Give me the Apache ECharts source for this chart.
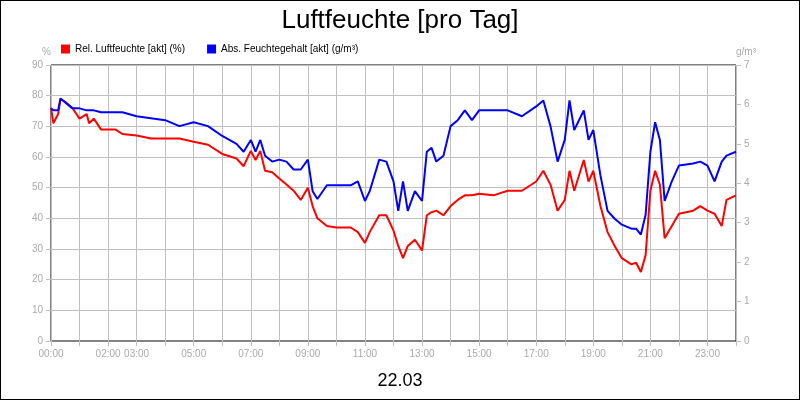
<!DOCTYPE html><html><head><meta charset="utf-8"><script src="https://cdn.jsdelivr.net/npm/echarts@6/dist/echarts.min.js"></script>
<style>body{margin:0}#c{width:798px;height:398px;border:1px solid #000}</style></head><body><div id="c"></div><script>
const times=["0:00","0:05","0:15","0:20","0:30","0:45","1:00","1:15","1:20","1:30","1:45","2:00","2:15","2:30","3:00","3:30","4:00","4:30","5:00","5:30","6:00","6:30","6:45","7:00","7:10","7:20","7:30","7:45","8:00","8:15","8:30","8:45","9:00","9:10","9:20","9:40","10:00","10:30","10:45","11:00","11:10","11:30","11:45","12:00","12:10","12:20","12:30","12:45","13:00","13:10","13:20","13:30","13:45","14:00","14:15","14:30","14:45","15:00","15:30","16:00","16:30","17:00","17:15","17:30","17:45","18:00","18:10","18:20","18:40","18:50","19:00","19:15","19:30","19:45","20:00","20:20","20:30","20:40","20:50","21:00","21:10","21:20","21:30","21:45","22:00","22:30","22:45","23:00","23:15","23:30","23:40","24:00"];
const relHum=[76,71,74,79,78,76,72.5,74,71,72.5,69,69,69,67.5,67,66,66,66,65,64,61,59.5,57,62,59,62,55.5,55,53,51,49,46,50,44,40,37.5,37,37,35.5,32,35.5,41,41,36,31,27,31,33,29.5,41,42,42.5,41,44,46,47.5,47.5,48,47.5,49,49,52,55.5,51,42.5,46,55.5,49,59,52,55.5,44,35.5,31,27,25,25.5,22.5,28,49,55.5,51,33.5,37.5,41.5,42.5,44,42.5,41.5,37.5,46,47.5];
const absHum=[5.9,5.85,5.85,6.15,6.05,5.9,5.9,5.85,5.85,5.85,5.8,5.8,5.8,5.8,5.7,5.65,5.6,5.45,5.55,5.45,5.2,5.0,4.8,5.1,4.8,5.1,4.7,4.55,4.6,4.55,4.35,4.35,4.6,3.8,3.6,3.95,3.95,3.95,4.05,3.55,3.8,4.6,4.55,4.05,3.3,4.05,3.3,3.8,3.55,4.8,4.9,4.55,4.7,5.45,5.6,5.85,5.6,5.85,5.85,5.85,5.7,5.95,6.1,5.45,4.55,5.1,6.1,5.35,5.85,5.1,5.35,4.2,3.3,3.1,2.95,2.85,2.85,2.7,3.2,4.8,5.55,5.1,3.55,4.05,4.45,4.5,4.55,4.45,4.05,4.55,4.7,4.8];
const xLabels={0:"00:00",2:"02:00",3:"03:00",5:"05:00",7:"07:00",9:"09:00",11:"11:00",13:"13:00",15:"15:00",17:"17:00",19:"19:00",21:"21:00",23:"23:00"};
const h=t=>{const [a,b]=t.split(":");return +a+ +b/60;};
const c=echarts.init(document.getElementById('c'));
const g='#c0c0c0',f='Liberation Sans, Arial';
c.setOption({animation:false,textStyle:{fontFamily:f},
title:[{text:'Luftfeuchte [pro Tag]',left:'center',top:2,textStyle:{fontSize:26,fontWeight:'normal',color:'#000',fontFamily:f}},
{text:'22.03',left:'center',top:366,textStyle:{fontSize:18,fontWeight:'normal',color:'#000',fontFamily:f}}],
legend:{left:55,top:38,itemWidth:9,itemHeight:9,itemGap:22,icon:'rect',textStyle:{fontSize:10,color:'#000'},data:['Rel. Luftfeuchte [akt] (%)','Abs. Feuchtegehalt [akt] (g/m³)']},
grid:{left:50,right:63,top:64,bottom:58,show:true,borderColor:'#000',borderWidth:1},
xAxis:{type:'value',min:0,max:24,interval:1,axisLine:{lineStyle:{color:'#888'}},axisTick:{lineStyle:{color:g}},splitLine:{lineStyle:{color:g}},
axisLabel:{color:'#aaa',fontSize:10,formatter:v=>xLabels[v]||''}},
yAxis:[{type:'value',min:0,max:90,interval:10,name:'%',nameGap:8,nameTextStyle:{color:'#aaa',fontSize:10,align:'right'},axisLine:{show:false},axisTick:{show:true,lineStyle:{color:g}},axisLabel:{color:'#aaa',fontSize:10},splitLine:{lineStyle:{color:g}}},
{type:'value',min:0,max:7,interval:1,name:'g/m³',nameGap:8,nameTextStyle:{color:'#aaa',fontSize:10,align:'left'},axisLine:{show:false},axisTick:{show:true,lineStyle:{color:g}},axisLabel:{color:'#aaa',fontSize:10},splitLine:{show:false}}],
series:[{name:'Rel. Luftfeuchte [akt] (%)',type:'line',showSymbol:false,color:'#f00',lineStyle:{width:2},data:times.map((t,i)=>[h(t),relHum[i]])},
{name:'Abs. Feuchtegehalt [akt] (g/m³)',type:'line',yAxisIndex:1,showSymbol:false,color:'#00f',lineStyle:{width:2},data:times.map((t,i)=>[h(t),absHum[i]])}]});
</script></body></html>
